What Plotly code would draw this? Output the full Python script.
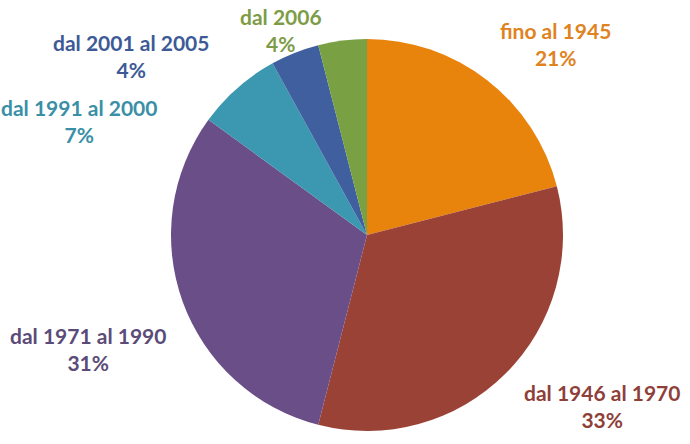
import plotly.graph_objects as go

categories = ["fino al 1945", "dal 1946 al 1970", "dal 1971 al 1990",
              "dal 1991 al 2000", "dal 2001 al 2005", "dal 2006"]
values = [21, 33, 31, 7, 4, 4]

slice_colors = ["#E8830C", "#9B4236", "#6A4E88", "#3C97B1", "#3F5F9F", "#79A042"]
text_colors = ["#E0821E", "#8F3F3A", "#5B4B78", "#3A8FA7", "#3D5A96", "#7E9C48"]
# label centre positions in pixels (x, y of first line), layout only
label_px = [(555, 30), (602, 392), (88, 335), (79, 107), (131, 42), (281, 16)]

W, H = 690, 444
total = sum(values)

fig = go.Figure(go.Pie(
    labels=categories,
    values=values,
    sort=False,
    direction="clockwise",
    rotation=0,
    marker=dict(colors=slice_colors, line=dict(width=0)),
    textinfo="none",
    hoverinfo="label+percent",
    showlegend=False,
    domain=dict(x=[171 / W, 563 / W], y=[(H - 431) / H, (H - 39) / H]),
))

for cat, val, col, (px, py) in zip(categories, values, text_colors, label_px):
    pct = round(100 * val / total)
    fig.add_annotation(
        x=px / W, y=1 - (py + 14) / H, xref="paper", yref="paper",
        text=f"{cat}<br>{pct}%", showarrow=False,
        xanchor="center", yanchor="middle", align="center",
        font=dict(family="Lato", size=21, color=col, weight="bold"),
    )

fig.update_layout(
    width=W, height=H,
    margin=dict(l=0, r=0, t=0, b=0),
    paper_bgcolor="white", plot_bgcolor="white",
)

fig.write_html("out.html")
